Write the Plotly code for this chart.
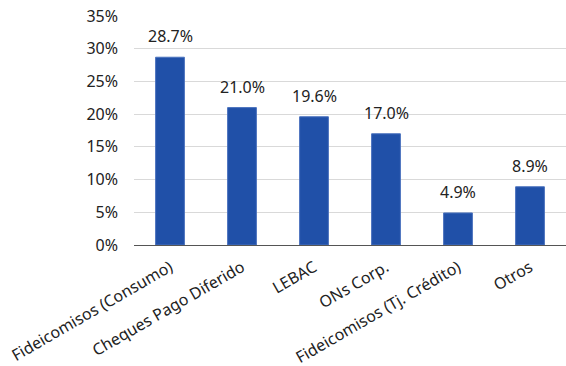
import plotly.graph_objects as go

categories = ["Fideicomisos (Consumo)", "Cheques Pago Diferido", "LEBAC", "ONs Corp.",
              "Fideicomisos (Tj. Crédito)", "Otros"]
values = [28.7, 21.0, 19.6, 17.0, 4.9, 8.9]
labels = ["28.7%", "21.0%", "19.6%", "17.0%", "4.9%", "8.9%"]

font_family = "Noto Sans, Open Sans, sans-serif"
fig = go.Figure(go.Bar(x=categories, y=values, marker=dict(color="#2050A8", line=dict(color="#4A72BE", width=1)),
                       hoverinfo="skip"))
for c, v, t in zip(categories, values, labels):
    fig.add_annotation(x=c, y=v, text=t, showarrow=False, yanchor="bottom", yshift=8,
                       font=dict(size=16, color="#222222", family=font_family))

fig.update_layout(
    width=566, height=366, margin=dict(l=134, r=0, t=16, b=121),
    plot_bgcolor="white", paper_bgcolor="white", bargap=0.6, showlegend=False,
    font=dict(family=font_family, size=16, color="#222222"),
)
fig.update_yaxes(range=[0, 35], dtick=5, ticksuffix="%", showgrid=True, gridcolor="#d9d9d9",
                 gridwidth=1, zeroline=False, ticklabelstandoff=15, tickfont=dict(size=16),
                 automargin=False)
fig.update_xaxes(tickangle=-30, showline=True, linecolor="#555555", linewidth=1,
                 ticklabelstandoff=6, tickfont=dict(size=16), automargin=False)
fig.write_html("out.html", config={"displayModeBar": False, "staticPlot": True},
               post_script="document.body.style.margin='0';document.body.style.overflow='hidden';")
